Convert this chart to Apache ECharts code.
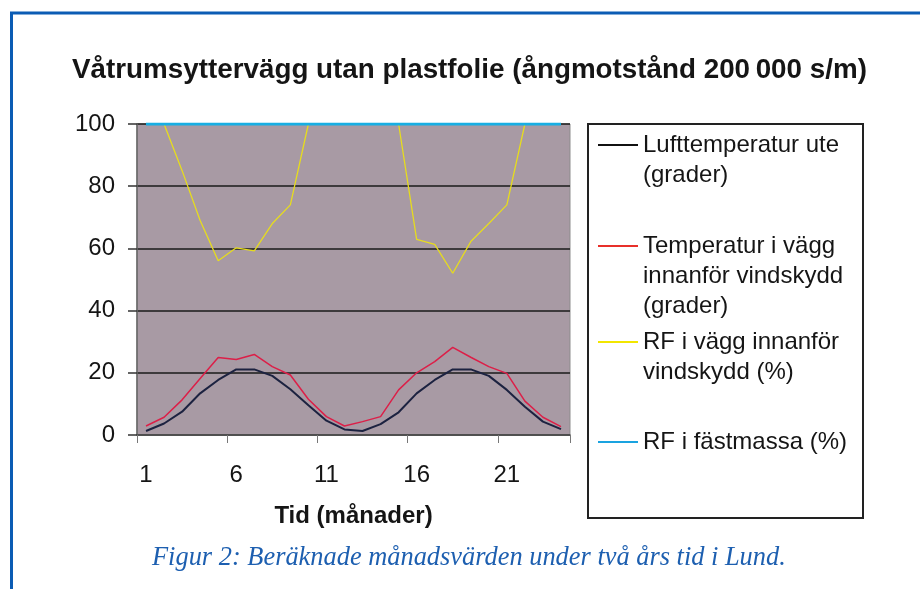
<!DOCTYPE html>
<html>
<head>
<meta charset="utf-8">
<script src="https://cdn.jsdelivr.net/npm/echarts@6/dist/echarts.min.js"></script>
<style>html,body{margin:0;padding:0;background:#fff}#c{width:920px;height:589px}</style>
</head>
<body>
<div id="c"></div>
<script>
var months = ['1','2','3','4','5','6','7','8','9','10','11','12','13','14','15','16','17','18','19','20','21','22','23','24'];
var luftUte = [1.3,3.7,7.5,13.4,17.7,21.1,21.1,19,14.7,9.6,4.6,1.8,1.3,3.5,7.3,13.4,17.7,21.1,21.1,19,14.5,9.1,4.3,1.9];
var tempVagg = [2.9,5.7,11.3,18.2,24.9,24.3,25.9,22,19.3,11.5,5.9,2.9,4.3,5.9,14.5,20,23.6,28.2,25,22,19.8,10.9,5.7,2.7];
var rfVagg = [100,100,85,69,56,60.2,59.2,68,74,100,100,100,100,100,100,62.9,61.3,52,62.2,68,74,100,100,100];
var rfFastmassa = [100,100,100,100,100,100,100,100,100,100,100,100,100,100,100,100,100,100,100,100,100,100,100,100];
var yTicks = [0,20,40,60,80,100];

var names = ['Lufttemperatur ute (grader)','Temperatur i vägg innanför vindskydd (grader)','RF i vägg innanför vindskydd (%)','RF i fästmassa (%)'];
var legendLines = [
  ['Lufttemperatur ute','(grader)'],
  ['Temperatur i vägg','innanför vindskydd','(grader)'],
  ['RF i vägg innanför','vindskydd (%)'],
  ['RF i fästmassa (%)']
];
var legendFirstY = [145,246,342,442];
var legendColors = ['#111111','#e8302a','#f2e600','#1aa3e0'];
var lineColors = ['#1c2240','#dc1f48','#e6dc1e','#17aee3'];
var lineWidths = [2,1.5,1.3,3];
var seriesData = [luftUte, tempVagg, rfVagg, rfFastmassa];

var FONT = 'Liberation Sans, Arial, sans-serif';
var LH = 30;

var legends = names.map(function(n, i){
  var N = legendLines[i].length;
  var pre = '';
  for (var k = 0; k < N - 1; k++) pre += ' \n';
  return {
    data: [n],
    left: 598,
    top: legendFirstY[i] - (2*N-1)*LH/2,
    orient: 'vertical',
    icon: 'rect',
    itemWidth: 40,
    itemHeight: 2,
    padding: 0,
    selectedMode: false,
    itemStyle: {color: legendColors[i]},
    textStyle: {fontFamily: FONT, fontSize: 24, color: '#151515', lineHeight: LH},
    formatter: function(){ return pre + legendLines[i].join('\n'); }
  };
});

var chart = echarts.init(document.getElementById('c'), null, {renderer:'canvas'});
chart.setOption({
  animation: false,
  backgroundColor: '#ffffff',
  title: [{
    text: 'Våtrumsyttervägg utan plastfolie (ångmotstånd 200\u2009000 s/m)',
    left: 67, top: 51,
    textStyle: {fontFamily: FONT, fontSize: 27.8, fontWeight: 'bold', color: '#151515'}
  },{
    text: 'Figur 2: Beräknade månadsvärden under två års tid i Lund.',
    left: 147, top: 540,
    textStyle: {fontFamily: 'Liberation Serif, Times New Roman, serif', fontSize: 26.4, fontStyle: 'italic', fontWeight: 'normal', color: '#1d5fb0'}
  }],
  legend: legends,
  grid: {left: 137, right: 350, top: 124, bottom: 154, show: true, backgroundColor: '#a89aa4', borderColor: '#8d8d8d', borderWidth: 1},
  xAxis: {
    type: 'category',
    data: months,
    boundaryGap: true,
    axisLine: {show: true, lineStyle: {color: '#555', width: 1.5}},
    axisTick: {show: true, interval: 4, length: 8, lineStyle: {color: '#777', width: 1}},
    axisLabel: {interval: 4, margin: 28, fontFamily: FONT, fontSize: 24, color: '#151515'},
    name: 'Tid (månader)',
    nameLocation: 'middle',
    nameGap: 69,
    nameTextStyle: {fontFamily: FONT, fontSize: 24, fontWeight: 'bold', color: '#151515'},
    splitLine: {show: false}
  },
  yAxis: {
    type: 'value',
    min: yTicks[0], max: yTicks[yTicks.length-1], interval: 20,
    axisLine: {show: true, lineStyle: {color: '#666', width: 1.5}},
    axisTick: {show: true, length: 9, lineStyle: {color: '#333', width: 1.5}},
    axisLabel: {margin: 22, fontFamily: FONT, fontSize: 24, color: '#151515'},
    splitLine: {show: true, lineStyle: {color: '#1a1a1a', width: 1.5}}
  },
  series: names.map(function(n, i){
    return {
      name: n,
      type: 'line',
      data: seriesData[i],
      symbol: 'none',
      color: legendColors[i],
      lineStyle: {color: lineColors[i], width: lineWidths[i]},
      z: 2 + i
    };
  }),
  graphic: [
    {type: 'line', shape: {x1: 11.5, y1: 12, x2: 11.5, y2: 589}, style: {stroke: '#0b5cb4', lineWidth: 3}, z: 100},
    {type: 'line', shape: {x1: 10, y1: 13, x2: 920, y2: 13}, style: {stroke: '#0b5cb4', lineWidth: 3}, z: 100},
    {type: 'rect', shape: {x: 588, y: 124, width: 275, height: 394}, style: {fill: 'none', stroke: '#222', lineWidth: 2}, z: 100}
  ]
});
</script>
</body>
</html>
